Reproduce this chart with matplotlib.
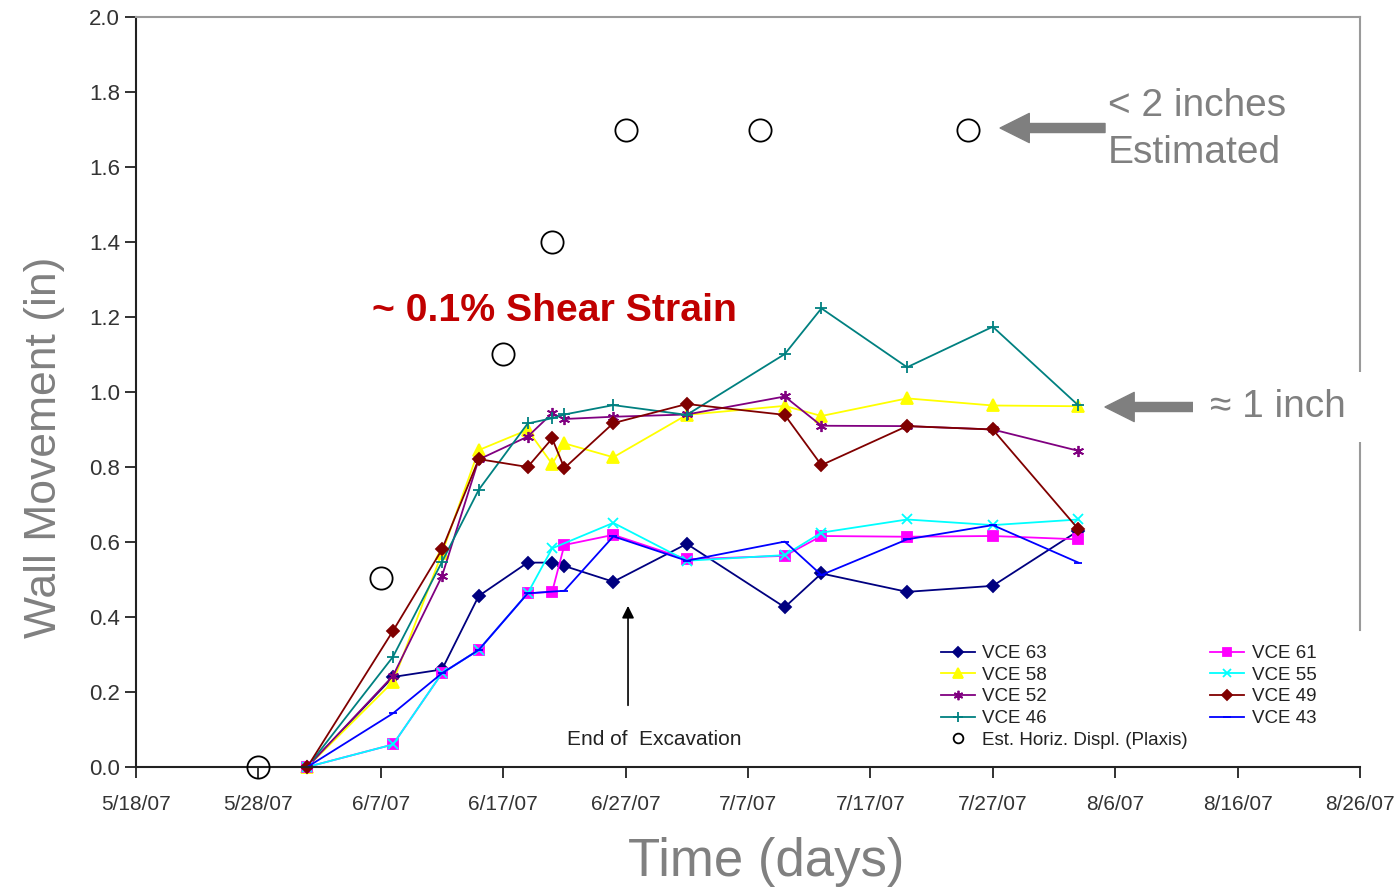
import matplotlib
matplotlib.use('Agg')
import matplotlib.pyplot as plt
import matplotlib.dates as mdates
import matplotlib.ticker as mticker
import pandas as pd
import numpy as np

plt.rcParams['font.family'] = ['Liberation Sans', 'DejaVu Sans']

# 监测日期
dates = pd.to_datetime(['2007-06-01', '2007-06-08', '2007-06-12', '2007-06-15', '2007-06-19',
                        '2007-06-21', '2007-06-22', '2007-06-26', '2007-07-02', '2007-07-10',
                        '2007-07-13', '2007-07-20', '2007-07-27', '2007-08-03'])

# 各测点位移 (in)，None 表示该日无读数
vce63 = [0, 0.24, 0.26, 0.456, 0.545, 0.545, 0.536, 0.494, 0.595, 0.426, 0.516, 0.467, 0.483, 0.63]
vce58 = [0, 0.227, 0.57, 0.845, 0.899, 0.808, 0.863, 0.826, 0.939, 0.963, 0.936, 0.983, 0.964, 0.962]
vce52 = [0, 0.243, 0.509, 0.82, 0.881, 0.943, 0.928, 0.934, 0.94, 0.988, 0.91, 0.909, 0.90, 0.843]
vce46 = [0, 0.294, 0.547, 0.739, 0.916, 0.93, 0.94, 0.965, 0.939, 1.101, 1.223, 1.066, 1.174, 0.964]
vce61 = [0, 0.06, 0.25, 0.312, 0.463, 0.467, 0.592, 0.619, 0.554, 0.563, 0.616, 0.614, 0.616, 0.607]
vce55 = [0, 0.06, 0.25, 0.312, 0.463, 0.583, None, 0.651, 0.55, 0.565, 0.625, 0.66, 0.645, 0.66]
vce49 = [0, 0.363, 0.58, 0.821, 0.80, 0.876, 0.797, 0.917, 0.968, 0.939, 0.805, 0.909, 0.90, 0.634]
vce43 = [0, 0.143, 0.25, 0.312, 0.463, None, 0.47, 0.615, 0.55, 0.601, 0.512, 0.607, 0.645, 0.545]

# Plaxis 估算水平位移
plaxis_dates = pd.to_datetime(['2007-05-28', '2007-06-07', '2007-06-17', '2007-06-21',
                               '2007-06-27', '2007-07-08', '2007-07-25'])
plaxis_vals = [0.0, 0.504, 1.10, 1.40, 1.70, 1.70, 1.70]

x_ticks = pd.date_range('2007-05-18', '2007-08-26', freq='10D')
y_ticks = [0.0, 0.2, 0.4, 0.6, 0.8, 1.0, 1.2, 1.4, 1.6, 1.8, 2.0]

series = [
    ('VCE 63', vce63, '#000080', 'D', 6),
    ('VCE 58', vce58, '#FFFF00', '^', 8),
    ('VCE 52', vce52, '#800080', (6, 2, 0), 8),
    ('VCE 46', vce46, '#008080', '+', 8),
    ('VCE 61', vce61, '#FF00FF', 's', 7),
    ('VCE 55', vce55, '#00FFFF', 'x', 7),
    ('VCE 49', vce49, '#800000', 'D', 6),
    ('VCE 43', vce43, '#0000FF', '_', 6),
]

fig = plt.figure(figsize=(13.96, 8.91), dpi=100)
ax = fig.add_axes([0.0974, 0.1392, 0.8768, 0.8417])

handles = {}
for name, vals, col, mk, ms in series:
    v = np.array([np.nan if a is None else a for a in vals], dtype=float)
    ok = np.isfinite(v)
    ln, = ax.plot(dates[ok], v[ok], color=col, marker=mk, markersize=ms, lw=1.3,
                  markeredgewidth=1.3, label=name, clip_on=False)
    handles[name] = ln

est, = ax.plot(plaxis_dates, plaxis_vals, linestyle='none', marker='o', markersize=16,
               markerfacecolor='none', markeredgecolor='black', markeredgewidth=1.3,
               label='Est. Horiz. Displ. (Plaxis)', clip_on=False, zorder=4)

ax.set_xlim(x_ticks[0], x_ticks[-1])
ax.set_ylim(0, 2.0)
ax.set_xticks(x_ticks)
ax.set_yticks(y_ticks)
ax.xaxis.set_major_formatter(mticker.FuncFormatter(
    lambda v, p: (lambda d: f"{d.month}/{d.day}/{d:%y}")(mdates.num2date(v))))
ax.yaxis.set_major_formatter(mticker.FormatStrFormatter('%.1f'))
ax.tick_params(axis='both', direction='out', length=8, width=1.3, colors='#222222',
               labelsize=16, labelcolor='#333333')
ax.tick_params(axis='x', labelsize=15, pad=12)

for s in ['left', 'bottom']:
    ax.spines[s].set_color('#222222')
    ax.spines[s].set_linewidth(1.5)
for s in ['top', 'right']:
    ax.spines[s].set_color('#9a9a9a')
    ax.spines[s].set_linewidth(1.5)
ax.spines['right'].set_bounds(0.365, 2.0)

order = ['VCE 63', 'VCE 58', 'VCE 52', 'VCE 46']
order2 = ['VCE 61', 'VCE 55', 'VCE 49', 'VCE 43']
hl = [handles[n] for n in order] + [est] + [handles[n] for n in order2]
leg = ax.legend(hl, [h.get_label() for h in hl], loc='upper left', bbox_to_anchor=(0.650, 0.175),
                ncol=2, frameon=False, fontsize=13.5, handlelength=1.8, handletextpad=0.4,
                columnspacing=1.2, labelspacing=0.24, borderpad=0)
for t in leg.get_texts():
    t.set_color('#222222')
leg.legend_handles[4].set_markersize(7)
for i, h in enumerate(leg.legend_handles):
    if i != 4:
        h.set_markersize(h.get_markersize() * 0.85)

# 标注
ax.text(0.1928, 0.608, '~ 0.1% Shear Strain', transform=ax.transAxes, fontsize=28.3,
        fontweight='bold', color='#C00000', ha='left', va='center')
ax.text(0.794, 0.850, '< 2 inches\nEstimated', transform=ax.transAxes, fontsize=28,
        color='#808080', ha='left', va='center', linespacing=1.38)
ax.text(0.8775, 0.4800, '\u2248 1 inch', transform=ax.transAxes, fontsize=28,
        color='#808080', ha='left', va='center', zorder=5,
        bbox=dict(fc='white', ec='none', pad=12))
arrow_kw = dict(width=6.5, headwidth=21, headlength=21, color='#7f7f7f', shrink=0)
ax.annotate('', xy=(0.706, 1.704), xycoords=('axes fraction', 'data'),
            xytext=(0.7917, 1.704), textcoords=('axes fraction', 'data'), arrowprops=arrow_kw)
ax.annotate('', xy=(0.7917, 0.96), xycoords=('axes fraction', 'data'),
            xytext=(0.8636, 0.96), textcoords=('axes fraction', 'data'), arrowprops=arrow_kw)
ax.annotate('', xy=(0.402, 0.437), xycoords=('axes fraction', 'data'),
            xytext=(0.402, 0.157), textcoords=('axes fraction', 'data'),
            arrowprops=dict(arrowstyle='-|>', color='black', lw=1.2, mutation_scale=18))
ax.text(0.4232, 0.036, 'End of  Excavation', transform=ax.transAxes, fontsize=15,
        color='#222222', ha='center', va='center')

fig.text(0.0322, 0.4983, 'Wall Movement (in)', rotation=90, fontsize=32, color='#808080',
         ha='center', va='center')
fig.text(0.5487, 0.0330, 'Time (days)', fontsize=38, color='#808080', ha='center', va='center')

fig.savefig('out.png', dpi=100)
